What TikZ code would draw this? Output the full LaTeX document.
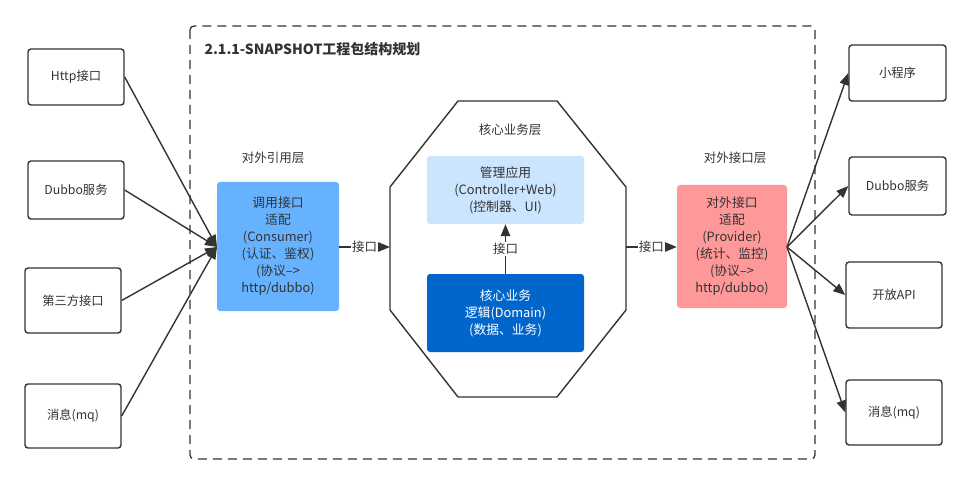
\documentclass[tikz,border=0pt]{standalone}
\usepackage{fontspec}
\setmainfont{Noto Sans CJK SC}
\usetikzlibrary{arrows.meta}
\definecolor{ink}{HTML}{333333}
\definecolor{cblue}{HTML}{66B2FF}
\definecolor{clight}{HTML}{CCE5FF}
\definecolor{cdark}{HTML}{0066CC}
\definecolor{cpink}{HTML}{FF9999}
\tikzset{
  outbox/.style={draw=ink, line width=1.4pt, rounded corners=3pt, fill=white, text=ink, font=\fontsize{12.3}{14}\selectfont, inner sep=0pt},
  colbox/.style={rounded corners=3pt, draw=none, text=ink, align=center, inner sep=0pt, font=\fontsize{12.8}{17}\selectfont},
  conn/.style={draw=ink, line width=1.4pt, -{Triangle[length=12pt,width=9.5pt]}},
  lbl/.style={text=ink, font=\fontsize{12.5}{14}\selectfont},
  iflbl/.style={text=ink, fill=white, inner sep=1pt, font=\fontsize{12.5}{14}\selectfont},
}
\begin{document}
\begin{tikzpicture}[x=1pt,y=-1pt]
\useasboundingbox (0,0) rectangle (970,484);
% container
\draw[ink, line width=1.3pt, dash pattern=on 9pt off 6pt, rounded corners=4pt] (190,26) rectangle (815,459);
\node[anchor=west, text=ink, font=\fontsize{14}{16}\selectfont\bfseries] (title) at (201,49) {2.1.1-SNAPSHOT工程包结构规划};
% octagon
\draw[ink, line width=1.4pt, fill=white] (458,101) -- (557,101) -- (626,187) -- (626,310) -- (557,397) -- (458,397) -- (390,310) -- (390,187) -- cycle;
\coordinate (octL) at (390,247);
\coordinate (octR) at (626,247);
% layer labels
\node[lbl] (lay1) at (273,158) {对外引用层};
\node[lbl] (lay2) at (510,130) {核心业务层};
\node[lbl] (lay3) at (735,158) {对外接口层};
% colored boxes
\node[colbox, fill=cblue, minimum width=122pt, minimum height=129pt] (cons) at (278,246.5) {调用接口\\适配\\(Consumer)\\(认证、鉴权)\\(协议-->\\http/dubbo)};
\node[colbox, fill=clight, minimum width=157pt, minimum height=68pt] (mgmt) at (505.5,190) {管理应用\\(Controller+Web)\\(控制器、UI)};
\node[colbox, fill=cdark, text=white, minimum width=157pt, minimum height=78pt] (core) at (505.5,313) {核心业务\\逻辑(Domain)\\(数据、业务)};
\node[colbox, fill=cpink, minimum width=110pt, minimum height=123pt] (prov) at (732,246.5) {对外接口\\适配\\(Provider)\\(统计、监控)\\(协议-->\\http/dubbo)};
% left boxes
\node[outbox, minimum width=96pt, minimum height=56pt] (l1) at (76,77) {Http接口};
\node[outbox, minimum width=96pt, minimum height=58pt] (l2) at (76,190) {Dubbo服务};
\node[outbox, minimum width=96pt, minimum height=65pt] (l3) at (73,300.5) {第三方接口};
\node[outbox, minimum width=96pt, minimum height=64pt] (l4) at (73,416) {消息(mq)};
% right boxes
\node[outbox, minimum width=97pt, minimum height=56pt] (r1) at (897.5,73) {小程序};
\node[outbox, minimum width=97pt, minimum height=58pt] (r2) at (897.5,186) {Dubbo服务};
\node[outbox, minimum width=96pt, minimum height=66pt] (r3) at (894,295) {开放API};
\node[outbox, minimum width=96pt, minimum height=65pt] (r4) at (894,412.5) {消息(mq)};
% connectors left
\coordinate (cin) at (217,247);
\foreach \n in {l1,l2,l3,l4} \draw[conn] (\n.east) -- (cin);
% connectors right
\coordinate (pout) at (787,247);
\foreach \n in {r1,r2,r3,r4} \draw[conn] (pout) -- (\n.west);
% interface arrows
\draw[conn] (cons.east |- octL) -- node[iflbl] (if1) {接口} (octL);
\draw[conn] (octR) -- node[iflbl] (if2) {接口} (prov.west |- octR);
\draw[conn] (core.north) -- node[iflbl] (if3) {接口} (mgmt.south);
\end{tikzpicture}
\end{document}
